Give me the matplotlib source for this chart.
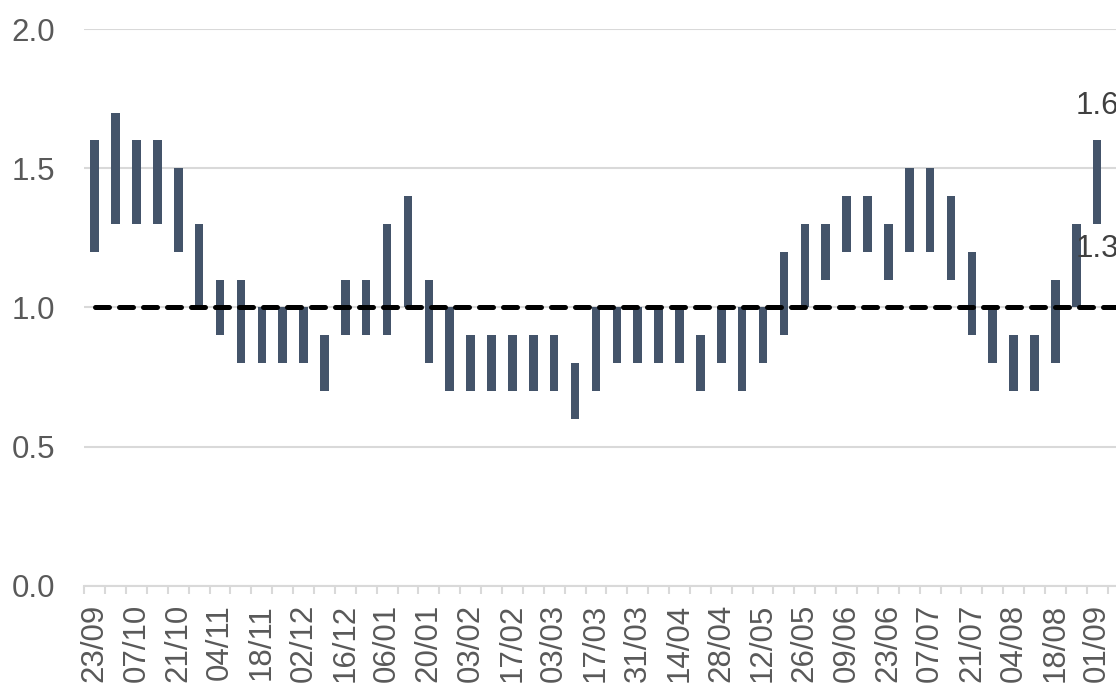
import matplotlib
matplotlib.use('Agg')
import matplotlib.pyplot as plt
import numpy as np

plt.rcParams['font.family'] = ['Liberation Sans', 'DejaVu Sans']

# weekly categories (one week skipped over the holidays)
weeks = ['23/09', '30/09', '07/10', '14/10', '21/10', '28/10', '04/11', '11/11',
         '18/11', '25/11', '02/12', '09/12', '16/12', '23/12', '06/01', '13/01',
         '20/01', '27/01', '03/02', '10/02', '17/02', '24/02', '03/03', '10/03',
         '17/03', '24/03', '31/03', '07/04', '14/04', '21/04', '28/04', '05/05',
         '12/05', '19/05', '26/05', '02/06', '09/06', '16/06', '23/06', '30/06',
         '07/07', '14/07', '21/07', '28/07', '04/08', '11/08', '18/08', '25/08',
         '01/09']

low = [1.2, 1.3, 1.3, 1.3, 1.2, 1.0, 0.9, 0.8, 0.8, 0.8, 0.8, 0.7, 0.9, 0.9,
       0.9, 1.0, 0.8, 0.7, 0.7, 0.7, 0.7, 0.7, 0.7, 0.6, 0.7, 0.8, 0.8, 0.8,
       0.8, 0.7, 0.8, 0.7, 0.8, 0.9, 1.0, 1.1, 1.2, 1.2, 1.1, 1.2, 1.2, 1.1,
       0.9, 0.8, 0.7, 0.7, 0.8, 1.0, 1.3]
high = [1.6, 1.7, 1.6, 1.6, 1.5, 1.3, 1.1, 1.1, 1.0, 1.0, 1.0, 0.9, 1.1, 1.1,
        1.3, 1.4, 1.1, 1.0, 0.9, 0.9, 0.9, 0.9, 0.9, 0.8, 1.0, 1.0, 1.0, 1.0,
        1.0, 0.9, 1.0, 1.0, 1.0, 1.2, 1.3, 1.3, 1.4, 1.4, 1.3, 1.5, 1.5, 1.4,
        1.2, 1.0, 0.9, 0.9, 1.1, 1.3, 1.6]
threshold = 1.0

bar_color = '#44546A'
grid_color = '#D9D9D9'
text_color = '#595959'
fs = 22.5

fig = plt.figure(figsize=(11.16, 6.84), dpi=100)
ax = fig.add_axes([0.0755, 0.1433, 0.9245, 0.8143])

x = np.arange(len(weeks))
lo = np.array(low)
hi = np.array(high)
ax.bar(x, hi - lo, bottom=lo, width=0.41, color=bar_color, zorder=3)

ax.plot([x[0], x[-1] + 1], [threshold, threshold], color='black', lw=3.6,
        dashes=(2.8, 2.0), dash_capstyle='round', zorder=4)

# data labels on the latest week (cut by the right edge, as in the source)
ax.annotate(f'{high[-1]:.1f}', (x[-1], high[-1]), xytext=(0, 14),
            textcoords='offset points', ha='center', va='bottom',
            fontsize=fs, color='#404040', annotation_clip=False)
ax.annotate(f'{low[-1]:.1f}', (x[-1], low[-1]), xytext=(0, -7),
            textcoords='offset points', ha='center', va='top',
            fontsize=fs, color='#404040', annotation_clip=False)

ax.set_xlim(-0.5, len(weeks) - 0.5 + 0.4)
ax.set_ylim(0, 2.0)
ax.set_yticks([0.0, 0.5, 1.0, 1.5, 2.0])
ax.set_yticklabels([f'{v:.1f}' for v in [0.0, 0.5, 1.0, 1.5, 2.0]])
ax.yaxis.grid(True, color=grid_color, lw=1.5, zorder=0)
ax.tick_params(axis='y', length=0, pad=21, labelsize=fs, labelcolor=text_color)

ax.set_xticks(x[::2])
ax.set_xticklabels(weeks[::2], rotation=90)
ax.set_xticks(np.arange(len(weeks) + 1) - 0.5, minor=True)
ax.tick_params(axis='x', which='major', length=0, pad=13, labelsize=fs,
               labelcolor=text_color)
ax.tick_params(axis='x', which='minor', length=6, width=1.5, color=grid_color)

for side in ['top', 'right', 'left']:
    ax.spines[side].set_visible(False)
ax.spines['bottom'].set_color(grid_color)
ax.spines['bottom'].set_linewidth(1.5)

fig.savefig('out.png', dpi=100)
